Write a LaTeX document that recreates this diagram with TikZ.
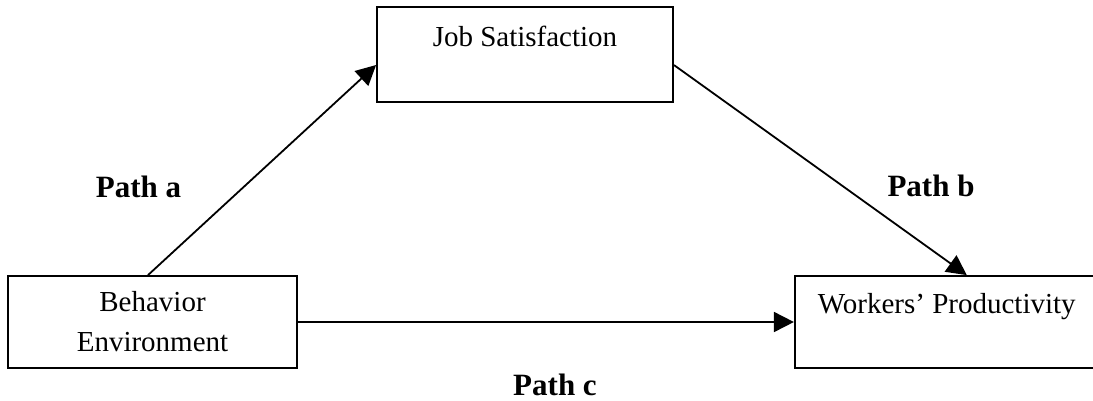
\documentclass[tikz,border=0pt]{standalone}
\usepackage{fontspec}
\setmainfont{Liberation Serif}
\usepackage{tikz}
\usetikzlibrary{positioning, arrows.meta}
\tikzset{
    varbox/.style={rectangle, draw, line width=1.8pt, inner sep=0pt, font=\fontsize{29}{40}\selectfont, align=center},
    pathlabel/.style={anchor=base, font=\fontsize{31}{36}\selectfont\bfseries},
    link/.style={line width=1.8pt, -{Triangle[length=20pt, width=20pt]}}
}

\begin{document}
\begin{tikzpicture}[x=1pt, y=-1pt]
    \useasboundingbox (0,0) rectangle (1093,400);
    \node[varbox, minimum width=296pt, text height=39pt, text depth=56pt] (job) at (525,54.5) {Job Satisfaction};
    \node[varbox, minimum width=289pt, minimum height=92pt] (behav) at (152.5,322) {Behavior\\Environment};
    \node[varbox, minimum width=304pt, text height=37pt, text depth=55pt, right=496pt of behav] (prod) {Workers’ Productivity};

    \draw[link] ([xshift=-4.5pt]behav.north) -- ([yshift=-10.5pt]job.west);
    \draw[link] ([yshift=-10.5pt]job.east) -- ([xshift=20pt]prod.north);
    \draw[link] (behav.east) -- (prod.west);

    \node[pathlabel] (patha) at (138.5,197) {Path a};
    \node[pathlabel] (pathb) at (931,196) {Path b};
    \node[pathlabel] (pathc) at (555,395) {Path c};
\end{tikzpicture}
\end{document}
